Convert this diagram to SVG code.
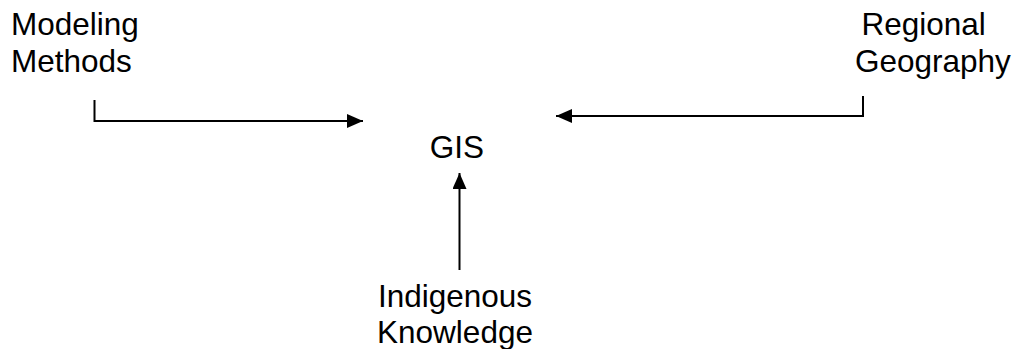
<svg xmlns="http://www.w3.org/2000/svg" width="1015" height="349" viewBox="0 0 1015 349">
  <style>
    text { font-family: "Liberation Sans", Arial, sans-serif; font-size: 31.5px; fill: #000; }
    .c { text-anchor: middle; }
    .conn { fill: none; stroke: #000; stroke-width: 2; }
  </style>
  <defs>
    <marker id="ah" viewBox="0 0 16 14" refX="16" refY="7" markerWidth="16" markerHeight="14" markerUnits="userSpaceOnUse" orient="auto">
      <path d="M0,0 L16,7 L0,14 Z" fill="#000"/>
    </marker>
  </defs>
  <rect width="1015" height="349" fill="#fff"/>
  <g id="connectors">
    <path class="conn" d="M94.5,100 V121 H363" marker-end="url(#ah)"/>
    <path class="conn" d="M863,96 V116 H556" marker-end="url(#ah)"/>
    <path class="conn" d="M459.5,270 V173" marker-end="url(#ah)"/>
  </g>
  <g id="modeling-methods">
    <text x="11" y="35">Modeling</text>
    <text x="11" y="72">Methods</text>
  </g>
  <g id="regional-geography">
    <text x="861.5" y="35">Regional</text>
    <text x="855" y="72">Geography</text>
  </g>
  <g id="gis">
    <text class="c" x="457" y="158">GIS</text>
  </g>
  <g id="indigenous-knowledge">
    <text class="c" x="455" y="307">Indigenous</text>
    <text class="c" x="455" y="343">Knowledge</text>
  </g>
</svg>
